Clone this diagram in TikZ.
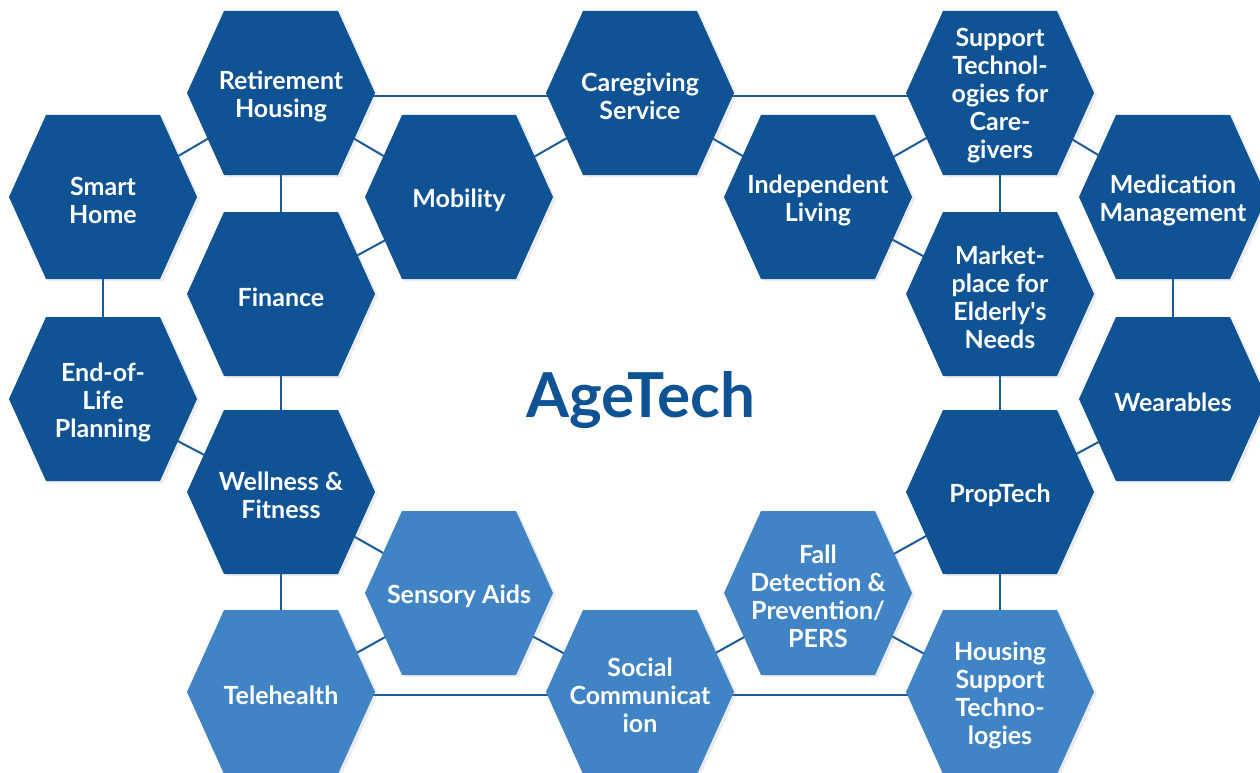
\documentclass[tikz,border=0pt]{standalone}
\usepackage{fontspec}
\setmainfont{Lato}
\usetikzlibrary{backgrounds,shadows}
\definecolor{hexdark}{HTML}{0F5394}
\definecolor{hexlight}{HTML}{4084C6}
\definecolor{linkblue}{HTML}{1B5A98}

\begin{document}
\begin{tikzpicture}[x=1pt, y=-1pt,
    hexshade/.style={drop shadow={opacity=0.15, shadow xshift=3pt, shadow yshift=-2pt}},
    hexlabel/.style={text=white, align=center, yshift=-3pt, font=\bfseries\fontsize{25}{28}\selectfont},
    link/.style={draw=linkblue, line width=2pt}]
  \useasboundingbox (0, 0) rectangle (1260, 773);

  % dark hexagons
  \fill[hexdark, hexshade] (9, 197) -- ++(37, -82) -- ++(114, 0) -- ++(37, 82) -- ++(-37, 82) -- ++(-114, 0) -- cycle;
  \fill[hexdark, hexshade] (9, 399) -- ++(37, -82) -- ++(114, 0) -- ++(37, 82) -- ++(-37, 82) -- ++(-114, 0) -- cycle;
  \fill[hexdark, hexshade] (187, 93) -- ++(37, -82) -- ++(114, 0) -- ++(37, 82) -- ++(-37, 82) -- ++(-114, 0) -- cycle;
  \fill[hexdark, hexshade] (187, 294) -- ++(37, -82) -- ++(114, 0) -- ++(37, 82) -- ++(-37, 82) -- ++(-114, 0) -- cycle;
  \fill[hexdark, hexshade] (187, 492) -- ++(37, -82) -- ++(114, 0) -- ++(37, 82) -- ++(-37, 82) -- ++(-114, 0) -- cycle;
  \fill[hexdark, hexshade] (365, 197) -- ++(37, -82) -- ++(114, 0) -- ++(37, 82) -- ++(-37, 82) -- ++(-114, 0) -- cycle;
  \fill[hexdark, hexshade] (546, 93) -- ++(37, -82) -- ++(114, 0) -- ++(37, 82) -- ++(-37, 82) -- ++(-114, 0) -- cycle;
  \fill[hexdark, hexshade] (724, 197) -- ++(37, -82) -- ++(114, 0) -- ++(37, 82) -- ++(-37, 82) -- ++(-114, 0) -- cycle;
  \fill[hexdark, hexshade] (906, 93) -- ++(37, -82) -- ++(114, 0) -- ++(37, 82) -- ++(-37, 82) -- ++(-114, 0) -- cycle;
  \fill[hexdark, hexshade] (906, 294) -- ++(37, -82) -- ++(114, 0) -- ++(37, 82) -- ++(-37, 82) -- ++(-114, 0) -- cycle;
  \fill[hexdark, hexshade] (906, 492) -- ++(37, -82) -- ++(114, 0) -- ++(37, 82) -- ++(-37, 82) -- ++(-114, 0) -- cycle;
  \fill[hexdark, hexshade] (1079, 197) -- ++(37, -82) -- ++(114, 0) -- ++(37, 82) -- ++(-37, 82) -- ++(-114, 0) -- cycle;
  \fill[hexdark, hexshade] (1079, 399) -- ++(37, -82) -- ++(114, 0) -- ++(37, 82) -- ++(-37, 82) -- ++(-114, 0) -- cycle;

  % light hexagons
  \fill[hexlight, hexshade] (187, 692) -- ++(37, -82) -- ++(114, 0) -- ++(37, 82) -- ++(-37, 82) -- ++(-114, 0) -- cycle;
  \fill[hexlight, hexshade] (365, 593) -- ++(37, -82) -- ++(114, 0) -- ++(37, 82) -- ++(-37, 82) -- ++(-114, 0) -- cycle;
  \fill[hexlight, hexshade] (546, 692) -- ++(37, -82) -- ++(114, 0) -- ++(37, 82) -- ++(-37, 82) -- ++(-114, 0) -- cycle;
  \fill[hexlight, hexshade] (724, 593) -- ++(37, -82) -- ++(114, 0) -- ++(37, 82) -- ++(-37, 82) -- ++(-114, 0) -- cycle;
  \fill[hexlight, hexshade] (906, 692) -- ++(37, -82) -- ++(114, 0) -- ++(37, 82) -- ++(-37, 82) -- ++(-114, 0) -- cycle;

  % labels
  \node[hexlabel] (home) at (103, 197) {Smart\\Home};
  \node[hexlabel] (eol) at (103, 399) {End-of-\\Life\\Planning};
  \node[hexlabel] (retire) at (281, 93) {Retirement\\Housing};
  \node[hexlabel] (finance) at (281, 294) {Finance};
  \node[hexlabel] (wellness) at (281, 492) {Wellness \&\\Fitness};
  \node[hexlabel] (tele) at (281, 692) {Telehealth};
  \node[hexlabel] (mobility) at (459, 197) {Mobility};
  \node[hexlabel] (sensory) at (459, 593) {Sensory Aids};
  \node[hexlabel] (care) at (640, 93) {Caregiving\\Service};
  \node[hexlabel] (social) at (640, 692) {Social\\Communicat\\ion};
  \node[hexlabel] (indep) at (818, 197) {Independent\\Living};
  \node[hexlabel] (fall) at (818, 593) {Fall\\Detection \&\\Prevention/\\PERS};
  \node[hexlabel] (support) at (1000, 93) {Support\\Technol-\\ogies for\\Care-\\givers};
  \node[hexlabel] (market) at (1000, 294) {Market-\\place for\\Elderly\textquotesingle s\\Needs};
  \node[hexlabel] (prop) at (1000, 492) {PropTech};
  \node[hexlabel] (housing) at (1000, 692) {Housing\\Support\\Techno-\\logies};
  \node[hexlabel] (medic) at (1173, 197) {Medication\\Management};
  \node[hexlabel] (wear) at (1173, 399) {Wearables};

  \node[text=hexdark, font=\bfseries\fontsize{62}{64}\selectfont] (title) at (641, 400) {AgeTech};

  % connectors
  \begin{scope}[on background layer]
    \draw[link] (home.center) -- (retire.center);
    \draw[link] (home.center) -- (eol.center);
    \draw[link] (retire.center) -- (finance.center);
    \draw[link] (retire.center) -- (mobility.center);
    \draw[link] (retire.center) -- (care.center);
    \draw[link] (finance.center) -- (mobility.center);
    \draw[link] (finance.center) -- (wellness.center);
    \draw[link] (eol.center) -- (wellness.center);
    \draw[link] (mobility.center) -- (care.center);
    \draw[link] (care.center) -- (indep.center);
    \draw[link] (care.center) -- (support.center);
    \draw[link] (indep.center) -- (support.center);
    \draw[link] (indep.center) -- (market.center);
    \draw[link] (support.center) -- (market.center);
    \draw[link] (support.center) -- (medic.center);
    \draw[link] (medic.center) -- (wear.center);
    \draw[link] (market.center) -- (prop.center);
    \draw[link] (prop.center) -- (wear.center);
    \draw[link] (prop.center) -- (fall.center);
    \draw[link] (prop.center) -- (housing.center);
    \draw[link] (fall.center) -- (housing.center);
    \draw[link] (fall.center) -- (social.center);
    \draw[link] (social.center) -- (housing.center);
    \draw[link] (social.center) -- (sensory.center);
    \draw[link] (social.center) -- (tele.center);
    \draw[link] (sensory.center) -- (tele.center);
    \draw[link] (sensory.center) -- (wellness.center);
    \draw[link] (wellness.center) -- (tele.center);
  \end{scope}
\end{tikzpicture}
\end{document}
